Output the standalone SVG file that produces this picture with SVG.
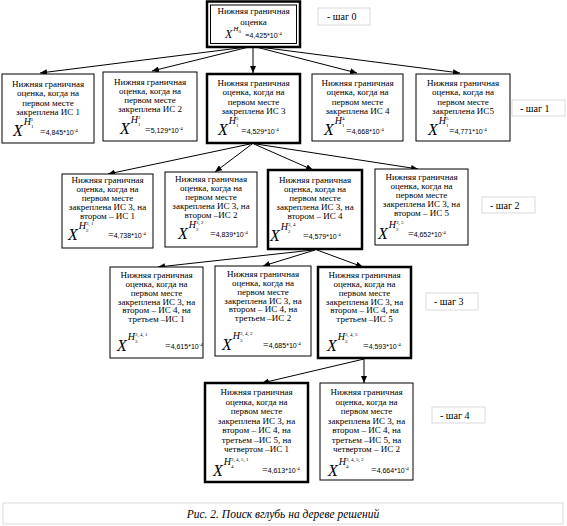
<svg xmlns="http://www.w3.org/2000/svg" width="567" height="526" viewBox="0 0 567 526">
<defs>
<marker id="ah" markerUnits="userSpaceOnUse" markerWidth="8" markerHeight="6" refX="7" refY="3" orient="auto"><path d="M0,0 L7,3 L0,6 Z" fill="#000"/></marker>
<style>
.bx{fill:#fff;stroke:#000;stroke-width:1}
.bk{fill:#fff;stroke:#000;stroke-width:2.5}
.t{font-family:"Liberation Serif",serif;font-size:9px;text-anchor:middle;fill:#000}
.f{font-family:"Liberation Serif",serif;fill:#000}
.fx{font-style:italic;font-size:16px}
.fh{font-style:italic;font-size:10px}
.fs{font-size:5px}
.fe{font-size:10px}
.fn{font-family:"Liberation Sans",sans-serif;font-size:7px}
.st{fill:#fff;stroke:#d9d9d9;stroke-width:1}
.stt{font-family:"Liberation Serif",serif;font-size:10px;fill:#000}
.ln{stroke:#000;stroke-width:1;fill:none;marker-end:url(#ah)}
.cap{font-family:"Liberation Serif",serif;font-size:11.5px;font-style:italic;text-anchor:middle;fill:#000}
</style>
</defs>
<rect width="567" height="526" fill="#fff"/>

<g id="connectors">
<line class="ln" x1="247" y1="47" x2="40" y2="73"/>
<line class="ln" x1="249" y1="47" x2="152" y2="71"/>
<line class="ln" x1="253" y1="47" x2="253" y2="73"/>
<line class="ln" x1="256" y1="47" x2="357" y2="73"/>
<line class="ln" x1="259" y1="47" x2="460" y2="73"/>
<line class="ln" x1="250" y1="144" x2="108" y2="174"/>
<line class="ln" x1="252" y1="144" x2="215" y2="172"/>
<line class="ln" x1="254" y1="144" x2="313" y2="170"/>
<line class="ln" x1="256" y1="144" x2="418" y2="169"/>
<line class="ln" x1="313" y1="250" x2="158" y2="267"/>
<line class="ln" x1="315" y1="250" x2="263" y2="266"/>
<line class="ln" x1="317" y1="250" x2="363" y2="267"/>
<line class="ln" x1="364" y1="359" x2="262" y2="383"/>
<line class="ln" x1="364" y1="359" x2="364" y2="383"/>
</g>

<g id="n0">
<rect class="bk" x="207" y="1.5" width="93" height="45.5"/>
<rect class="bx" x="210.5" y="5" width="86" height="38.5"/>
<text class="t" x="253.5" y="14">Нижняя граничная</text>
<text class="t" x="253.5" y="25">оценка</text>
<text class="f" x="225" y="38"><tspan style="font-style:italic;font-size:12px">X</tspan><tspan style="font-style:italic;font-size:7px" dx="1" dy="-7">H</tspan><tspan class="fs" dy="2">0</tspan></text>
<text class="f" x="245" y="38"><tspan style="font-size:8px">=</tspan><tspan class="fn">4,425*10</tspan><tspan class="fs" dy="-3">-4</tspan></text>
</g>
<g id="s0"><rect class="st" x="318" y="8" width="52" height="17"/><text class="stt" x="327" y="20">- шаг 0</text></g>

<g id="n1_1">
<rect class="bx" x="2" y="74" width="92" height="69"/>
<text class="t" x="48" y="87">Нижняя граничная</text>
<text class="t" x="48" y="96.3">оценка, когда на</text>
<text class="t" x="48" y="105.6">первом месте</text>
<text class="t" x="48" y="115">закреплена ИС 1</text>
<text class="f" x="13" y="136"><tspan class="fx">X</tspan><tspan class="fh" dx="1" dy="-11">H</tspan><tspan class="fs" dy="3">1</tspan><tspan class="fs" dx="-2.5" dy="-7">1</tspan></text>
<text class="f" x="40" y="135"><tspan class="fe">=</tspan><tspan class="fn">4,845*10</tspan><tspan class="fs" dy="-3">-4</tspan></text>
</g>
<g id="n1_2">
<rect class="bx" x="103" y="72" width="94" height="69"/>
<text class="t" x="150" y="84.5">Нижняя граничная</text>
<text class="t" x="150" y="93.8">оценка, когда на</text>
<text class="t" x="150" y="103">первом месте</text>
<text class="t" x="150" y="112.3">закреплена ИС 2</text>
<text class="f" x="120" y="134"><tspan class="fx">X</tspan><tspan class="fh" dx="1" dy="-11">H</tspan><tspan class="fs" dy="3">1</tspan><tspan class="fs" dx="-2.5" dy="-7">2</tspan></text>
<text class="f" x="145" y="133"><tspan class="fe">=</tspan><tspan class="fn">5,129*10</tspan><tspan class="fs" dy="-3">-4</tspan></text>
</g>
<g id="n1_3">
<rect class="bk" x="207" y="74" width="93" height="69"/>
<text class="t" x="253.5" y="86">Нижняя граничная</text>
<text class="t" x="253.5" y="95.3">оценка, когда на</text>
<text class="t" x="253.5" y="104.6">первом месте</text>
<text class="t" x="253.5" y="114">закреплена ИС 3</text>
<text class="f" x="218" y="135"><tspan class="fx">X</tspan><tspan class="fh" dx="1" dy="-11">H</tspan><tspan class="fs" dy="3">1</tspan><tspan class="fs" dx="-2.5" dy="-7">3</tspan></text>
<text class="f" x="241" y="134"><tspan class="fe">=</tspan><tspan class="fn">4,529*10</tspan><tspan class="fs" dy="-3">-4</tspan></text>
</g>
<g id="n1_4">
<rect class="bx" x="312" y="74" width="91" height="67"/>
<text class="t" x="357.5" y="86">Нижняя граничная</text>
<text class="t" x="357.5" y="95.3">оценка, когда на</text>
<text class="t" x="357.5" y="104.6">первом месте</text>
<text class="t" x="357.5" y="114">закреплена ИС 4</text>
<text class="f" x="324" y="135"><tspan class="fx">X</tspan><tspan class="fh" dx="1" dy="-11">H</tspan><tspan class="fs" dy="3">1</tspan><tspan class="fs" dx="-2.5" dy="-7">4</tspan></text>
<text class="f" x="346" y="134"><tspan class="fe">=</tspan><tspan class="fn">4,668*10</tspan><tspan class="fs" dy="-3">-4</tspan></text>
</g>
<g id="n1_5">
<rect class="bx" x="416" y="74" width="94" height="67"/>
<text class="t" x="463" y="86">Нижняя граничная</text>
<text class="t" x="463" y="95.3">оценка, когда на</text>
<text class="t" x="463" y="104.6">первом месте</text>
<text class="t" x="463" y="114">закреплена ИС5</text>
<text class="f" x="428" y="135"><tspan class="fx">X</tspan><tspan class="fh" dx="1" dy="-11">H</tspan><tspan class="fs" dy="3">1</tspan><tspan class="fs" dx="-2.5" dy="-7">5</tspan></text>
<text class="f" x="449" y="134"><tspan class="fe">=</tspan><tspan class="fn">4,771*10</tspan><tspan class="fs" dy="-3">-4</tspan></text>
</g>
<g id="s1"><rect class="st" x="512" y="100" width="53" height="16"/><text class="stt" x="520" y="112">- шаг 1</text></g>

<g id="n2_1">
<rect class="bx" x="62" y="174" width="91" height="74"/>
<text class="t" x="107.5" y="183">Нижняя граничная</text>
<text class="t" x="107.5" y="192">оценка, когда на</text>
<text class="t" x="107.5" y="201">первом месте</text>
<text class="t" x="107.5" y="210">закреплена ИС 3, на</text>
<text class="t" x="107.5" y="219">втором – ИС 1</text>
<text class="f" x="68" y="240"><tspan class="fx">X</tspan><tspan class="fh" dx="1" dy="-11">H</tspan><tspan class="fs" dy="3">2</tspan><tspan class="fs" dx="-2.5" dy="-7">3, 1</tspan></text>
<text class="f" x="108" y="238"><tspan class="fe">=</tspan><tspan class="fn">4,738*10</tspan><tspan class="fs" dy="-3">-4</tspan></text>
</g>
<g id="n2_2">
<rect class="bx" x="165" y="172" width="92" height="75"/>
<text class="t" x="211" y="182">Нижняя граничная</text>
<text class="t" x="211" y="191">оценка, когда на</text>
<text class="t" x="211" y="200">первом месте</text>
<text class="t" x="211" y="209">закреплена ИС 3, на</text>
<text class="t" x="211" y="218">втором –ИС 2</text>
<text class="f" x="178" y="239"><tspan class="fx">X</tspan><tspan class="fh" dx="1" dy="-11">H</tspan><tspan class="fs" dy="3">2</tspan><tspan class="fs" dx="-2.5" dy="-7">3, 2</tspan></text>
<text class="f" x="210" y="237"><tspan class="fe">=</tspan><tspan class="fn">4,839*10</tspan><tspan class="fs" dy="-3">-4</tspan></text>
</g>
<g id="n2_3">
<rect class="bk" x="268" y="170" width="94" height="79"/>
<text class="t" x="315" y="183">Нижняя граничная</text>
<text class="t" x="315" y="192">оценка, когда на</text>
<text class="t" x="315" y="201">первом месте</text>
<text class="t" x="315" y="210">закреплена ИС 3, на</text>
<text class="t" x="315" y="219">втором – ИС 4</text>
<text class="f" x="270" y="241"><tspan class="fx">X</tspan><tspan class="fh" dx="1" dy="-11">H</tspan><tspan class="fs" dy="3">2</tspan><tspan class="fs" dx="-2.5" dy="-7">3, 4</tspan></text>
<text class="f" x="303" y="239"><tspan class="fe">=</tspan><tspan class="fn">4,579*10</tspan><tspan class="fs" dy="-3">-4</tspan></text>
</g>
<g id="n2_4">
<rect class="bx" x="375" y="169" width="93" height="76"/>
<text class="t" x="421.5" y="180">Нижняя граничная</text>
<text class="t" x="421.5" y="189">оценка, когда на</text>
<text class="t" x="421.5" y="198">первом месте</text>
<text class="t" x="421.5" y="207">закреплена ИС 3, на</text>
<text class="t" x="421.5" y="216">втором – ИС 5</text>
<text class="f" x="378" y="239"><tspan class="fx">X</tspan><tspan class="fh" dx="1" dy="-11">H</tspan><tspan class="fs" dy="3">2</tspan><tspan class="fs" dx="-2.5" dy="-7">3, 5</tspan></text>
<text class="f" x="408" y="237"><tspan class="fe">=</tspan><tspan class="fn">4,652*10</tspan><tspan class="fs" dy="-3">-4</tspan></text>
</g>
<g id="s2"><rect class="st" x="482" y="197" width="53" height="16"/><text class="stt" x="490" y="209">- шаг 2</text></g>

<g id="n3_1">
<rect class="bx" x="110" y="267" width="93" height="91"/>
<text class="t" x="156.5" y="278">Нижняя граничная</text>
<text class="t" x="156.5" y="287">оценка, когда на</text>
<text class="t" x="156.5" y="296">первом месте</text>
<text class="t" x="156.5" y="304.5">закреплена ИС 3, на</text>
<text class="t" x="156.5" y="313">втором – ИС 4, на</text>
<text class="t" x="156.5" y="322">третьем –ИС 1</text>
<text class="f" x="117" y="351"><tspan class="fx">X</tspan><tspan class="fh" dx="1" dy="-11">H</tspan><tspan class="fs" dy="3">3</tspan><tspan class="fs" dx="-2.5" dy="-7">3, 4, 1</tspan></text>
<text class="f" x="165" y="349"><tspan class="fe">=</tspan><tspan class="fn">4,615*10</tspan><tspan class="fs" dy="-3">-4</tspan></text>
</g>
<g id="n3_2">
<rect class="bx" x="215" y="266" width="96" height="90"/>
<text class="t" x="263" y="277">Нижняя граничная</text>
<text class="t" x="263" y="286">оценка, когда на</text>
<text class="t" x="263" y="295">первом месте</text>
<text class="t" x="263" y="303.5">закреплена ИС 3, на</text>
<text class="t" x="263" y="312">втором – ИС 4, на</text>
<text class="t" x="263" y="321">третьем –ИС 2</text>
<text class="f" x="222" y="350"><tspan class="fx">X</tspan><tspan class="fh" dx="1" dy="-11">H</tspan><tspan class="fs" dy="3">3</tspan><tspan class="fs" dx="-2.5" dy="-7">3, 4, 2</tspan></text>
<text class="f" x="263" y="348"><tspan class="fe">=</tspan><tspan class="fn">4,685*10</tspan><tspan class="fs" dy="-3">-4</tspan></text>
</g>
<g id="n3_3">
<rect class="bk" x="318" y="267" width="93" height="91"/>
<text class="t" x="364.5" y="278">Нижняя граничная</text>
<text class="t" x="364.5" y="287">оценка, когда на</text>
<text class="t" x="364.5" y="296">первом месте</text>
<text class="t" x="364.5" y="304.5">закреплена ИС 3, на</text>
<text class="t" x="364.5" y="313">втором – ИС 4, на</text>
<text class="t" x="364.5" y="322">третьем –ИС 5</text>
<text class="f" x="327" y="351"><tspan class="fx">X</tspan><tspan class="fh" dx="1" dy="-11">H</tspan><tspan class="fs" dy="3">3</tspan><tspan class="fs" dx="-2.5" dy="-7">3, 4, 5</tspan></text>
<text class="f" x="363" y="349"><tspan class="fe">=</tspan><tspan class="fn">4,593*10</tspan><tspan class="fs" dy="-3">-4</tspan></text>
</g>
<g id="s3"><rect class="st" x="426" y="293" width="52" height="17"/><text class="stt" x="434" y="305">- шаг 3</text></g>

<g id="n4_1">
<rect class="bk" x="205" y="383" width="103" height="99"/>
<text class="t" x="256.5" y="395">Нижняя граничная</text>
<text class="t" x="256.5" y="404.5">оценка, когда на</text>
<text class="t" x="256.5" y="414">первом месте</text>
<text class="t" x="256.5" y="423.5">закреплена ИС 3, на</text>
<text class="t" x="256.5" y="433">втором – ИС 4, на</text>
<text class="t" x="256.5" y="442.5">третьем –ИС 5, на</text>
<text class="t" x="256.5" y="452">четвертом –ИС 1</text>
<text class="f" x="213" y="476"><tspan class="fx">X</tspan><tspan class="fh" dx="1" dy="-11">H</tspan><tspan class="fs" dy="3">4</tspan><tspan class="fs" dx="-2.5" dy="-7">3, 4, 5, 1</tspan></text>
<text class="f" x="262" y="473"><tspan class="fe">=</tspan><tspan class="fn">4,613*10</tspan><tspan class="fs" dy="-3">-4</tspan></text>
</g>
<g id="n4_2">
<rect class="bx" x="320" y="383" width="93" height="97"/>
<text class="t" x="366.5" y="395">Нижняя граничная</text>
<text class="t" x="366.5" y="404.5">оценка, когда на</text>
<text class="t" x="366.5" y="414">первом месте</text>
<text class="t" x="366.5" y="423.5">закреплена ИС 3, на</text>
<text class="t" x="366.5" y="433">втором – ИС 4, на</text>
<text class="t" x="366.5" y="442.5">третьем –ИС 5, на</text>
<text class="t" x="366.5" y="452">четвертом – ИС 2</text>
<text class="f" x="328" y="476"><tspan class="fx">X</tspan><tspan class="fh" dx="1" dy="-11">H</tspan><tspan class="fs" dy="3">4</tspan><tspan class="fs" dx="-2.5" dy="-7">3, 4, 5, 2</tspan></text>
<text class="f" x="371" y="473"><tspan class="fe">=</tspan><tspan class="fn">4,664*10</tspan><tspan class="fs" dy="-3">-4</tspan></text>
</g>
<g id="s4"><rect class="st" x="432" y="407" width="53" height="16"/><text class="stt" x="440" y="419">- шаг 4</text></g>

<g id="caption"><rect class="st" x="3" y="503" width="560" height="21"/><text class="cap" x="283" y="518">Рис. 2. Поиск вглубь на дереве решений</text></g>
</svg>
